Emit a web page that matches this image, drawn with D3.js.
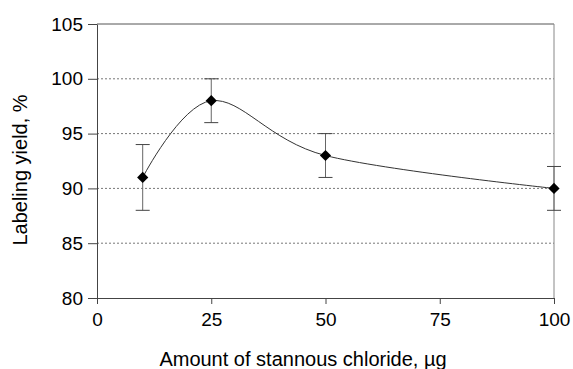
<!DOCTYPE html>
<html>
<head>
<meta charset="utf-8">
<script src="https://cdn.jsdelivr.net/npm/d3@7"></script>
<style>
  body { margin: 0; background: #fff; }
  text { font-family: "Liberation Sans", Arial, sans-serif; fill: #000; }
</style>
</head>
<body>
<div id="chart"></div>
<script>
// data
var amounts = [10, 25, 50, 100];
var yields = [91, 98, 93, 90];
var errLow = [88, 96, 91, 88];
var errHigh = [94, 100, 95, 92];
var xTicks = [0, 25, 50, 75, 100];
var yTicks = [80, 85, 90, 95, 100, 105];
var gridVals = [85, 90, 95, 100];

var W = 573, H = 369;
var mLeft = 97, mRight = 554, mTop = 24, mBottom = 298;

var svg = d3.select("#chart").append("svg")
  .attr("width", W).attr("height", H);

var x = d3.scaleLinear().domain([0, 100]).range([mLeft, mRight]);
var y = d3.scaleLinear().domain([80, 105]).range([mBottom, mTop]);

// dashed gridlines
svg.selectAll(".grid")
  .data(gridVals)
  .enter().append("line")
  .attr("x1", mLeft).attr("x2", mRight)
  .attr("y1", function(d) { return y(d); })
  .attr("y2", function(d) { return y(d); })
  .attr("stroke", "#777")
  .attr("stroke-dasharray", "2,2");

// plot frame: top and right
svg.append("line")
  .attr("x1", mLeft).attr("x2", mRight).attr("y1", mTop).attr("y2", mTop)
  .attr("stroke", "#555");
svg.append("line")
  .attr("x1", mRight).attr("x2", mRight).attr("y1", mTop).attr("y2", mBottom)
  .attr("stroke", "#888");

// axes
var yAxis = svg.append("g")
  .attr("transform", "translate(" + mLeft + ",0)")
  .call(d3.axisLeft(y).tickValues(yTicks).tickSize(9).tickSizeOuter(0).tickPadding(5));
var xAxis = svg.append("g")
  .attr("transform", "translate(0," + mBottom + ")")
  .call(d3.axisBottom(x).tickValues(xTicks).tickSize(6).tickSizeOuter(0).tickPadding(9));

[yAxis, xAxis].forEach(function(a) {
  a.select(".domain").attr("stroke", "#444");
  a.selectAll(".tick line").attr("stroke", "#444");
  a.selectAll(".tick text")
    .style("font-family", "Liberation Sans, Arial, sans-serif")
    .style("font-size", "19px")
    .attr("fill", "#000");
});

// smoothed line (uniform catmull-rom, like a spreadsheet smoothed line)
var pts = amounts.map(function(d, i) { return [d, yields[i]]; });
var line = d3.line()
  .x(function(d) { return x(d[0]); })
  .y(function(d) { return y(d[1]); })
  .curve(d3.curveCatmullRom.alpha(0));
svg.append("path")
  .datum(pts)
  .attr("d", line)
  .attr("fill", "none")
  .attr("stroke", "#333")
  .attr("stroke-width", 1);

// error bars
var eb = svg.selectAll(".err")
  .data(amounts)
  .enter().append("g");
eb.append("line")
  .attr("x1", function(d) { return x(d); })
  .attr("x2", function(d) { return x(d); })
  .attr("y1", function(d, i) { return y(errLow[i]); })
  .attr("y2", function(d, i) { return y(errHigh[i]); })
  .attr("stroke", "#666");
eb.append("line")
  .attr("x1", function(d) { return x(d) - 7; })
  .attr("x2", function(d) { return x(d) + 7; })
  .attr("y1", function(d, i) { return y(errLow[i]); })
  .attr("y2", function(d, i) { return y(errLow[i]); })
  .attr("stroke", "#444");
eb.append("line")
  .attr("x1", function(d) { return x(d) - 7; })
  .attr("x2", function(d) { return x(d) + 7; })
  .attr("y1", function(d, i) { return y(errHigh[i]); })
  .attr("y2", function(d, i) { return y(errHigh[i]); })
  .attr("stroke", "#444");

// diamond markers
svg.selectAll(".pt")
  .data(amounts)
  .enter().append("path")
  .attr("d", d3.symbol().type(d3.symbolDiamond2).size(80))
  .attr("transform", function(d, i) { return "translate(" + x(d) + "," + y(yields[i]) + ")"; })
  .attr("fill", "#000");

// axis titles
svg.append("text")
  .attr("x", 303).attr("y", 366)
  .attr("text-anchor", "middle")
  .style("font-size", "20px")
  .text("Amount of stannous chloride, µg");
svg.append("text")
  .attr("transform", "translate(27,170) rotate(-90)")
  .attr("text-anchor", "middle")
  .style("font-size", "20px")
  .text("Labeling yield, %");
</script>
</body>
</html>
